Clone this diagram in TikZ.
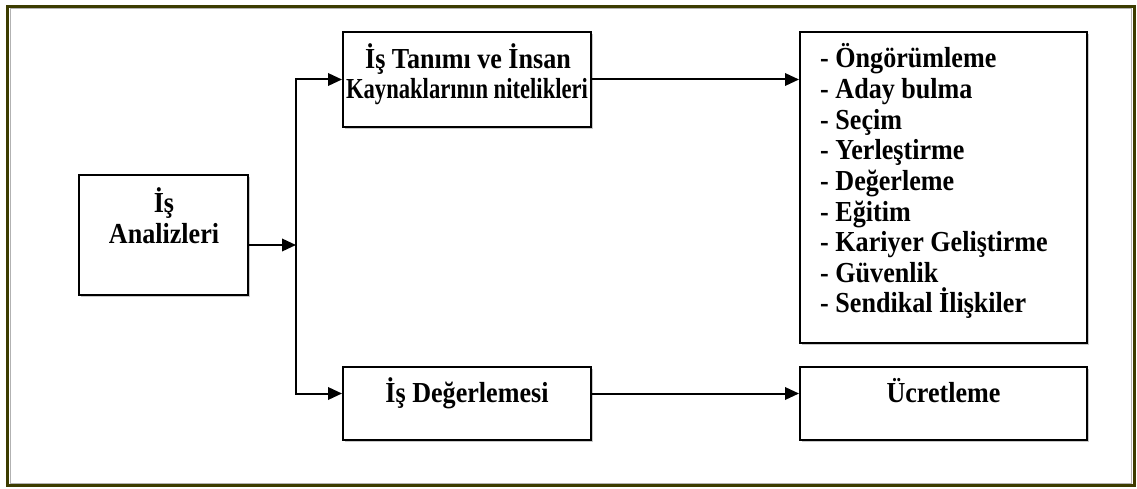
\documentclass[tikz,border=0pt]{standalone}
\usepackage{graphicx}
\usepackage{fontspec}
\setmainfont{Liberation Serif}
\usetikzlibrary{arrows.meta,shadows}
\definecolor{frameolive}{RGB}{60,60,0}
\newcommand{\sqz}[2][0.9]{\scalebox{#1}[1]{#2}}
\begin{document}
\begin{tikzpicture}[x=1pt,y=-1pt,
  box/.style={draw=black, line width=2pt, fill=white, inner sep=0pt,
    drop shadow={shadow xshift=2pt, shadow yshift=-2pt, fill=black!35, opacity=0.6}},
  lbl/.style={font=\fontsize{29}{32}\selectfont\bfseries, inner sep=0pt, anchor=base},
  lst/.style={font=\fontsize{29}{32}\selectfont\bfseries, inner sep=0pt, anchor=base west},
  conn/.style={line width=2pt, -{Triangle[length=14pt,width=12.5pt]}}]
\useasboundingbox (0,0) rectangle (1137,489);
\fill[white] (0,0) rectangle (1137,489);
% outer frame
\draw[black!30, line width=1pt] (10,9) rectangle (1131.5,483);
\draw[frameolive, line width=3pt] (7.5,6.5) rectangle (1134,485.5);
% boxes
\node[box, minimum width=169pt, minimum height=120pt] (a) at (163.5,235) {};
\node[box, minimum width=248pt, minimum height=95pt] (t) at (467,79.5) {};
\node[box, minimum width=287pt, minimum height=311pt] (l) at (943.5,187.5) {};
\node[box, minimum width=248pt, minimum height=73pt] (d) at (467,403.5) {};
\node[box, minimum width=287pt, minimum height=73pt] (u) at (943.5,403.5) {};
% texts
\node[lbl] (a1) at (164,212) {\sqz{İş}};
\node[lbl] (a2) at (164,243.5) {\sqz{Analizleri}};
\node[lbl] (t1) at (468,69) {\sqz[0.9]{İş Tanımı ve İnsan}};
\node[lbl] (t2) at (467,99) {\sqz[0.78]{Kaynaklarının nitelikleri}};
\node[lbl] (d1) at (467,402) {\sqz{İş Değerlemesi}};
\node[lbl] (u1) at (943.5,402) {\sqz{Ücretleme}};
\foreach \txt [count=\i from 0] in {Öngörümleme,Aday bulma,Seçim,Yerleştirme,Değerleme,Eğitim,Kariyer Geliştirme,Güvenlik,Sendikal İlişkiler}
  \node[lst] (l\i) at (820,{68+30.6*\i}) {\sqz{- \txt}};
% connectors
\coordinate (j) at (296,245);
\draw[conn] ([yshift=-10pt]a.east) -- (j);
\draw[conn, line join=miter] (j) |- (t.west);
\draw[conn, line join=miter] (j) |- ([yshift=10pt]d.west);
\draw[conn] (t.east) -- (l.west |- t.east);
\draw[conn] ([yshift=10pt]d.east) -- ([yshift=10pt]u.west);
\end{tikzpicture}
\end{document}
